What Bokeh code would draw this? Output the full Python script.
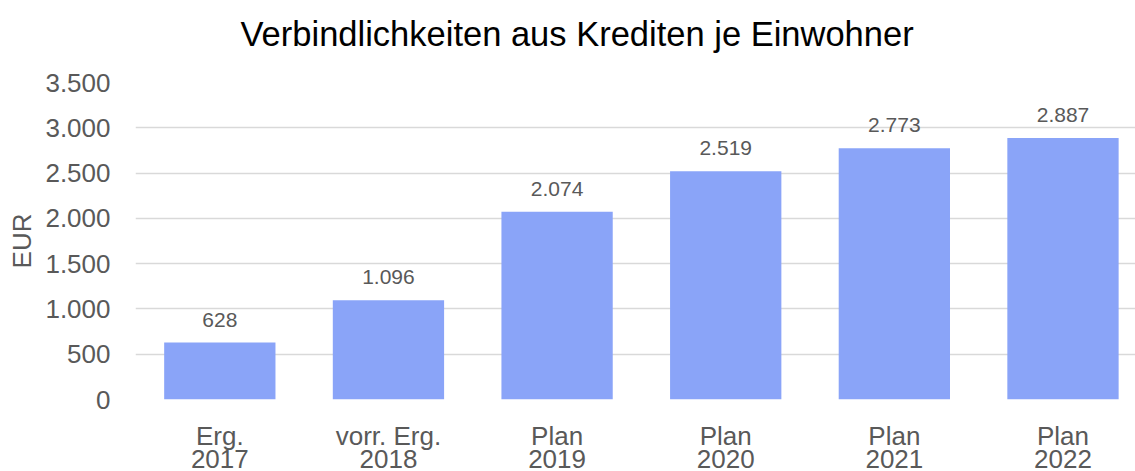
from bokeh.plotting import figure
from bokeh.models import FixedTicker, Range1d, LinearAxis
from bokeh.core.properties import value
from bokeh.embed import file_html
from bokeh.resources import INLINE

categories = ["Erg.", "vorr. Erg.", "Plan", "Plan", "Plan", "Plan"]
years = ["2017", "2018", "2019", "2020", "2021", "2022"]
values = [628, 1096, 2074, 2519, 2773, 2887]
value_labels = ["628", "1.096", "2.074", "2.519", "2.773", "2.887"]
y_ticks = [0, 500, 1000, 1500, 2000, 2500, 3000, 3500]
y_tick_labels = ["0", "500", "1.000", "1.500", "2.000", "2.500", "3.000", "3.500"]

FONT = "Liberation Sans"
GREY = "#595959"
xs = list(range(len(categories)))

p = figure(width=1135, height=471,
           x_range=Range1d(-0.5, 5.43), y_range=Range1d(0, 3500),
           output_backend="svg", toolbar_location=None,
           min_border_left=135, min_border_right=0,
           min_border_top=82, min_border_bottom=72,
           title="Verbindlichkeiten aus Krediten je Einwohner")
p.outline_line_color = None
p.background_fill_color = "white"
p.border_fill_color = "white"

p.title.text_font = FONT
p.title.text_font_size = "34.5px"
p.title.text_font_style = "normal"
p.title.text_color = "#000000"
p.title.align = "left"
p.title.offset = 105
p.title.standoff = 20

p.vbar(x=xs, top=values, width=0.66, fill_color="#8AA4F8", line_color=None)
p.text(x=xs, y=values, text=value_labels, text_align="center", text_baseline="middle",
       y_offset=-23, text_font=value(FONT), text_font_size="21px", text_color=GREY)


def style_x(ax, labels, standoff):
    ax.ticker = FixedTicker(ticks=xs)
    ax.major_label_overrides = {x: c for x, c in zip(xs, labels)}
    ax.axis_line_color = None
    ax.major_tick_line_color = None
    ax.minor_tick_line_color = None
    ax.major_tick_out = 0
    ax.major_tick_in = 0
    ax.major_label_text_font = FONT
    ax.major_label_text_font_size = "26px"
    ax.major_label_text_color = GREY
    ax.major_label_standoff = standoff


x_main = p.below[0]
style_x(x_main, categories, 21)
x_years = LinearAxis()
style_x(x_years, years, -4)
p.add_layout(x_years, "below")

# empty spacer axis between title and plot area
spacer = LinearAxis(ticker=FixedTicker(ticks=[0]), axis_line_color=None,
                    major_tick_line_color=None, minor_tick_line_color=None,
                    major_tick_out=20, major_tick_in=0, major_label_standoff=0,
                    major_label_overrides={0: ""},
                    major_label_text_font_size="1px")
p.add_layout(spacer, "above")

ya = p.left[0]
ya.ticker = FixedTicker(ticks=y_ticks)
ya.major_label_overrides = {t: l for t, l in zip(y_ticks, y_tick_labels)}
ya.axis_line_color = None
ya.major_tick_line_color = None
ya.minor_tick_line_color = None
ya.major_tick_out = 0
ya.major_tick_in = 0
ya.major_label_text_font = FONT
ya.major_label_text_font_size = "26px"
ya.major_label_text_color = GREY
ya.major_label_standoff = 25
ya.axis_label = "EUR"
ya.axis_label_text_font = FONT
ya.axis_label_text_font_size = "26px"
ya.axis_label_text_font_style = "normal"
ya.axis_label_text_color = GREY
ya.axis_label_standoff = 5

p.xgrid.visible = False
p.ygrid.grid_line_color = "#D9D9D9"
p.ygrid.grid_line_width = 1.5

open("out.html", "w").write(file_html(p, INLINE))
